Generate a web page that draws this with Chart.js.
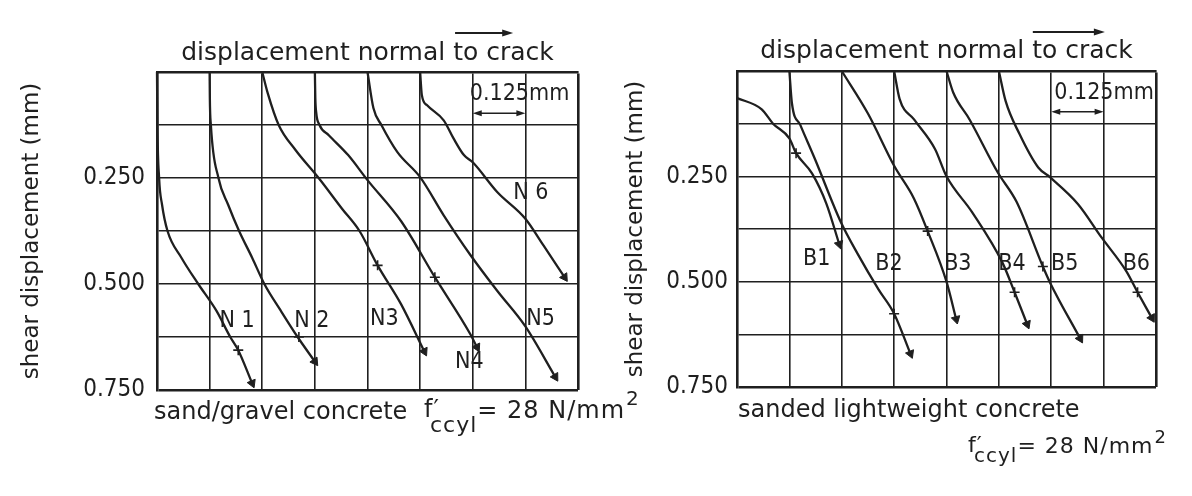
<!DOCTYPE html>
<html>
<head>
<meta charset="utf-8">
<script src="https://cdn.jsdelivr.net/npm/chart.js@4"></script>
<style>
  html, body { margin: 0; padding: 0; background: #fff; }
  #wrap { position: relative; width: 1192px; height: 496px; overflow: hidden; background: #fff; }
  canvas { position: absolute; top: 0; }
  #left { left: 0; }
  #right { left: 596px; }
</style>
</head>
<body>
<div id="wrap">
  <canvas id="left" width="700" height="496"></canvas>
  <canvas id="right" width="596" height="496"></canvas>
</div>
<script>
// shear displacement vs displacement normal to crack, in mm (curves shifted 0.125 mm each)
const N1 = [[0,0],[0.001,0.125],[0.005,0.25],[0.012,0.313],[0.025,0.375],[0.058,0.438],[0.098,0.5],[0.141,0.563],[0.174,0.625],[0.193,0.656],[0.226,0.734]];
const N2 = [[0.125,0],[0.1255,0.06],[0.128,0.125],[0.146,0.25],[0.169,0.313],[0.195,0.375],[0.226,0.438],[0.255,0.5],[0.294,0.563],[0.334,0.625],[0.375,0.683]];
const N3 = [[0.25,0],[0.263,0.05],[0.289,0.125],[0.329,0.184],[0.384,0.25],[0.44,0.323],[0.481,0.375],[0.524,0.456],[0.58,0.548],[0.635,0.659]];
const N4 = [[0.375,0],[0.376,0.06],[0.378,0.094],[0.386,0.125],[0.408,0.149],[0.454,0.196],[0.5,0.255],[0.58,0.352],[0.66,0.484],[0.744,0.618],[0.76,0.649]];
const N5 = [[0.5,0],[0.514,0.085],[0.533,0.125],[0.571,0.189],[0.625,0.248],[0.681,0.338],[0.744,0.431],[0.808,0.516],[0.875,0.6],[0.946,0.719]];
const N6 = [[0.625,0],[0.629,0.054],[0.641,0.078],[0.681,0.114],[0.704,0.156],[0.729,0.196],[0.75,0.213],[0.808,0.283],[0.875,0.346],[0.918,0.409],[0.968,0.484]];

const B1 = [[0,0.064],[0.059,0.091],[0.086,0.125],[0.125,0.16],[0.141,0.195],[0.179,0.243],[0.213,0.314],[0.244,0.411]];
const B2 = [[0.125,0],[0.131,0.076],[0.151,0.128],[0.186,0.209],[0.248,0.359],[0.288,0.434],[0.338,0.519],[0.375,0.576],[0.414,0.671]];
const B3 = [[0.25,0],[0.3125,0.101],[0.375,0.225],[0.4225,0.303],[0.455,0.38],[0.5,0.5],[0.523,0.589]];
const B4 = [[0.375,0],[0.388,0.066],[0.4225,0.115],[0.4725,0.185],[0.5,0.25],[0.561,0.335],[0.634,0.456],[0.6625,0.525],[0.6925,0.601]];
const B5 = [[0.5,0],[0.516,0.051],[0.555,0.115],[0.6225,0.241],[0.6675,0.311],[0.73,0.464],[0.7475,0.503],[0.819,0.635]];
const B6 = [[0.625,0],[0.641,0.071],[0.674,0.149],[0.719,0.229],[0.7475,0.2525],[0.814,0.316],[0.87,0.395],[0.929,0.475],[0.956,0.525],[0.99,0.586]];

// "+" marks on the curves
const nCrossX = [0.193, 0.337, 0.524, 0.66];
const nCrossY = [0.656, 0.625, 0.456, 0.484];
const bCrossX = [0.141, 0.375, 0.455, 0.6625, 0.73, 0.956];
const bCrossY = [0.195, 0.576, 0.38, 0.525, 0.464, 0.525];

const nNames = ['N 1', 'N 2', 'N3', 'N4', 'N5', 'N 6'];
const bNames = ['B1', 'B2', 'B3', 'B4', 'B5', 'B6'];

const yTickValues = [0.25, 0.5, 0.75];
const yTickText = ['0.250', '0.500', '0.750'];

// where the curve names sit (axis units)
const nLabelPos = [[0.19,0.587],[0.368,0.587],[0.54,0.583],[0.742,0.683],[0.911,0.583],[0.888,0.286]];
const bLabelPos = [[0.19,0.446],[0.3625,0.459],[0.527,0.459],[0.656,0.459],[0.782,0.459],[0.953,0.459]];

const INK = '#1f1f1f';
const FONT = '"DejaVu Sans", sans-serif';
const NARROW = '"DejaVu Sans Condensed", "DejaVu Sans", sans-serif';

Chart.defaults.color = INK;
Chart.defaults.font.family = FONT;

function arrowRotation(c) {
    const d = c.dataset.data, i = c.dataIndex;
    if (i < 1) return 0;
    const xs = c.chart.scales.x, ys = c.chart.scales.y;
    const dx = xs.getPixelForValue(d[i].x) - xs.getPixelForValue(d[i - 1].x);
    const dy = ys.getPixelForValue(d[i].y) - ys.getPixelForValue(d[i - 1].y);
    return Math.atan2(dx, -dy) * 180 / Math.PI;
}

function head(ctx, x, y, ang, len, half) {
    ctx.save();
    ctx.translate(x, y);
    ctx.rotate(ang);
    ctx.beginPath();
    ctx.moveTo(0, 0);
    ctx.lineTo(-len, -half);
    ctx.lineTo(-len, half);
    ctx.closePath();
    ctx.fill();
    ctx.restore();
}

// f'ccyl = 28 N/mm2 with sub- and superscript
function formula(ctx, o) {
    const x = o.fX, base = o.fY, size = o.fSize;
    ctx.textAlign = 'left';
    ctx.textBaseline = 'alphabetic';
    ctx.letterSpacing = '1px';
    ctx.font = size + 'px ' + FONT;
    ctx.fillText('f′', x, base - 1);
    ctx.font = (size - 2) + 'px ' + FONT;
    ctx.fillText('ccyl', x + 6, base + o.subDy);
    let cx = x + 6 + ctx.measureText('ccyl').width;
    ctx.font = size + 'px ' + FONT;
    ctx.fillText('= 28 N/mm', cx, base);
    cx += ctx.measureText('= 28 N/mm').width + 1;
    ctx.font = (size - 4) + 'px ' + FONT;
    ctx.fillText('2', cx, base - o.supDy);
    ctx.letterSpacing = '0px';
}

const decor = {
    id: 'decor',
    afterDraw(chart, args, o) {
        const { ctx, chartArea } = chart;
        const xs = chart.scales.x, ys = chart.scales.y;
        ctx.save();
        ctx.fillStyle = INK;
        ctx.strokeStyle = INK;

        // curve names
        ctx.font = '23px ' + NARROW;
        ctx.textAlign = 'center';
        ctx.textBaseline = 'middle';
        o.names.forEach((t, i) => {
            ctx.fillText(t, xs.getPixelForValue(o.labelPos[i][0]), ys.getPixelForValue(o.labelPos[i][1]));
        });

        // 0.125mm scale bar
        const a = xs.getPixelForValue(0.75), b = xs.getPixelForValue(0.875);
        ctx.font = '23px ' + NARROW;
        ctx.textAlign = 'left';
        ctx.textBaseline = 'alphabetic';
        ctx.fillText('0.125mm', a + o.barDx, ys.getPixelForValue(0.066));
        const by = ys.getPixelForValue(0.097);
        ctx.lineWidth = 1.5;
        ctx.beginPath();
        ctx.moveTo(a + 4, by);
        ctx.lineTo(b - 4, by);
        ctx.stroke();
        head(ctx, a, by, Math.PI, 9, 3);
        head(ctx, b, by, 0, 9, 3);

        // arrow above the title
        const ty = chartArea.top - 39;
        const t0 = xs.getPixelForValue(o.arrow[0]), t1 = xs.getPixelForValue(o.arrow[1]);
        ctx.lineWidth = 1.8;
        ctx.beginPath();
        ctx.moveTo(t0, ty);
        ctx.lineTo(t1 - 6, ty);
        ctx.stroke();
        head(ctx, t1, ty, 0, 11, 3.5);

        // material captions
        ctx.font = '24px ' + FONT;
        ctx.textAlign = 'left';
        ctx.fillText(o.caption, o.capX, o.capY);
        formula(ctx, o);
        ctx.restore();
    }
};

function makeChart(id, series, crossX, crossY, cfg) {
    const datasets = series.map(s => ({
        data: s.map(p => ({ x: p[0], y: p[1] })),
        showLine: true,
        borderColor: INK,
        borderWidth: 2.3,
        cubicInterpolationMode: 'monotone',
        fill: false,
        clip: false,
        pointStyle: 'triangle',
        pointBackgroundColor: INK,
        pointBorderColor: INK,
        pointBorderWidth: 1,
        pointRadius: c => c.dataIndex === c.dataset.data.length - 1 ? 5 : 0,
        pointHoverRadius: 0,
        pointRotation: arrowRotation
    }));
    datasets.push({
        data: crossX.map((x, i) => ({ x: x, y: crossY[i] })),
        showLine: false,
        pointStyle: 'cross',
        pointRadius: 5,
        pointBorderWidth: 1.6,
        pointBorderColor: INK,
        pointRotation: 0,
        clip: false
    });

    const thick = 2.6, thin = 1.6;
    return new Chart(document.getElementById(id), {
        type: 'scatter',
        data: { datasets: datasets },
        options: {
            responsive: false,
            animation: false,
            events: [],
            layout: { padding: cfg.pad },
            plugins: {
                legend: { display: false },
                tooltip: { enabled: false },
                decor: cfg.decor
            },
            scales: {
                x: {
                    type: 'linear',
                    position: 'top',
                    min: 0,
                    max: 1,
                    ticks: { display: false, stepSize: 0.125 },
                    grid: { color: INK, drawTicks: false, lineWidth: c => (c.tick && c.tick.value === 1) ? thick : thin },
                    border: { color: INK, width: thick },
                    title: { display: true, text: 'displacement normal to crack', color: INK, padding: 0, font: { family: FONT, size: 25 } },
                    afterFit: s => { s.height = cfg.topH; }
                },
                y: {
                    type: 'linear',
                    reverse: true,
                    min: 0,
                    max: 0.75,
                    ticks: {
                        stepSize: 0.125,
                        padding: cfg.tickPad,
                        color: INK,
                        font: { family: NARROW, size: 24 },
                        callback: v => {
                            const k = yTickValues.findIndex(t => Math.abs(t - v) < 1e-6);
                            return k < 0 ? '' : yTickText[k];
                        }
                    },
                    grid: { color: INK, drawTicks: false, lineWidth: c => (c.tick && c.tick.value === 0.75) ? thick : thin },
                    border: { color: INK, width: thick },
                    title: { display: true, text: 'shear displacement (mm)', color: INK, padding: 0, font: { family: FONT, size: 23 } },
                    afterFit: s => { s.width = cfg.leftW; }
                }
            }
        },
        plugins: [decor]
    });
}

makeChart('left', [N1, N2, N3, N4, N5, N6], nCrossX, nCrossY, {
    pad: { left: 18, top: 38, right: 122, bottom: 106 },
    topH: 34,
    leftW: 139,
    tickPad: 12,
    decor: {
        names: nNames, labelPos: nLabelPos, arrow: [0.708, 0.846], barDx: -3,
        caption: 'sand/gravel concrete', capX: 154, capY: 419,
        fX: 424, fY: 418, fSize: 24, subDy: 14, supDy: 13
    }
});

makeChart('right', [B1, B2, B3, B4, B5, B6], bCrossX, bCrossY, {
    pad: { left: 26, top: 36, right: 36, bottom: 109 },
    topH: 35,
    leftW: 115,
    tickPad: 9,
    decor: {
        names: bNames, labelPos: bLabelPos, arrow: [0.706, 0.878], barDx: 3,
        caption: 'sanded lightweight concrete', capX: 142, capY: 417,
        fX: 372, fY: 453, fSize: 22, subDy: 9, supDy: 10
    }
});
</script>
</body>
</html>
